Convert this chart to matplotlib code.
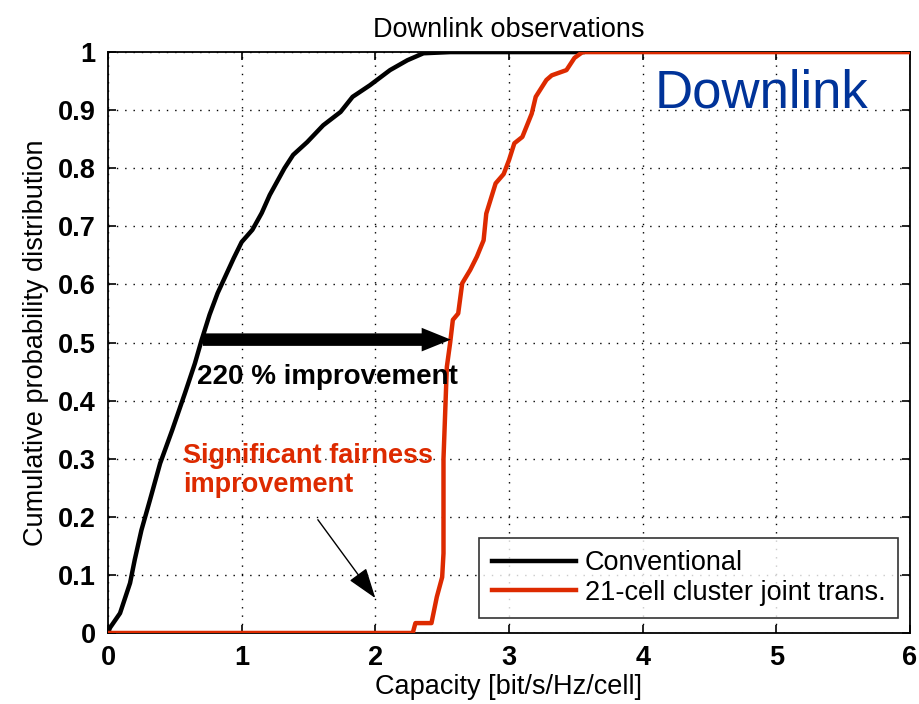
import matplotlib
matplotlib.use("Agg")
import matplotlib.pyplot as plt

plt.rcParams['font.family'] = ['Liberation Sans', 'DejaVu Sans']

# Conventional CDF
conv_x = [0.0, 0.015, 0.09, 0.165, 0.20, 0.25, 0.314, 0.39, 0.48, 0.576, 0.65,
          0.70, 0.76, 0.82, 0.94, 1.0, 1.08, 1.15, 1.21, 1.32, 1.385, 1.49,
          1.61, 1.74, 1.83, 1.96, 2.11, 2.24, 2.36, 2.56, 3.0, 3.55]
conv_y = [0.0, 0.009, 0.034, 0.086, 0.126, 0.177, 0.229, 0.292, 0.349, 0.413, 0.464,
          0.504, 0.548, 0.585, 0.645, 0.673, 0.694, 0.723, 0.754, 0.80, 0.823, 0.845,
          0.874, 0.897, 0.923, 0.943, 0.969, 0.986, 0.998, 1.0, 1.0, 1.0]

# 21-cell cluster joint transmission CDF
joint_x = [0.0, 2.28, 2.30, 2.42, 2.46, 2.50, 2.51, 2.51, 2.535, 2.56, 2.58,
           2.62, 2.65, 2.71, 2.76, 2.81, 2.83, 2.90, 2.96, 3.0, 3.04, 3.10,
           3.17, 3.20, 3.28, 3.32, 3.43, 3.49, 3.55, 6.0]
joint_y = [0.0, 0.0, 0.017, 0.017, 0.062, 0.096, 0.137, 0.30, 0.458, 0.50, 0.539,
           0.55, 0.602, 0.625, 0.648, 0.676, 0.722, 0.774, 0.79, 0.814, 0.843, 0.854,
           0.894, 0.923, 0.952, 0.96, 0.969, 0.99, 1.0, 1.0]

red = "#DD2A00"
blue = "#003399"

fig = plt.figure(figsize=(9.2, 7.04), dpi=100)
ax = fig.add_axes([0.1174, 0.1009, 0.8717, 0.8251])

ax.plot(conv_x, conv_y, color="black", lw=3.2, label="Conventional", zorder=3)
ax.plot(joint_x, joint_y, color=red, lw=3.2, label="21-cell cluster joint trans.", zorder=4)

ax.set_xlim(0, 6)
ax.set_ylim(0, 1)
ax.set_xticks(range(0, 7))
ax.set_yticks([0, 0.1, 0.2, 0.3, 0.4, 0.5, 0.6, 0.7, 0.8, 0.9, 1])
ax.set_yticklabels(["0", "0.1", "0.2", "0.3", "0.4", "0.5", "0.6", "0.7", "0.8", "0.9", "1"])
ax.tick_params(direction="in", top=True, right=True, length=6, width=1.2,
               labelsize=19.5, pad=9)
for lbl in ax.get_xticklabels() + ax.get_yticklabels():
    lbl.set_fontweight("bold")
ax.grid(True, color="black", linestyle=(0, (1, 5)), linewidth=1.0)
for s in ax.spines.values():
    s.set_linewidth(1.3)

ax.set_title("Downlink observations", fontsize=19.5, pad=11)
ax.set_xlabel("Capacity [bit/s/Hz/cell]", fontsize=19.5, labelpad=2)
ax.set_ylabel("Cumulative probability distribution", fontsize=19.5, labelpad=6)

# thick improvement arrow
ax.annotate("", xy=(2.565, 0.505), xytext=(0.71, 0.505),
            arrowprops=dict(arrowstyle="simple,tail_width=9,head_width=17,head_length=21",
                            mutation_scale=1, lw=0, fc="black", ec="black",
                            shrinkA=0, shrinkB=0), zorder=5)
ax.text(0.665, 0.44, "220 % improvement", fontsize=20, fontweight="bold",
        va="center", ha="left", zorder=6)

ax.text(0.56, 0.28, "Significant fairness\nimprovement", fontsize=19.5,
        fontweight="bold", color=red, va="center", ha="left", linespacing=1.15)
ax.annotate("", xy=(2.0, 0.06), xytext=(1.57, 0.195),
            arrowprops=dict(arrowstyle="-|>,head_length=1.9,head_width=0.65",
                            lw=1.0, color="black", shrinkA=0, shrinkB=0))

ax.text(4.09, 0.904, "Downlink", fontsize=38, color=blue, va="baseline", ha="left")

leg = ax.legend(loc="lower right", fontsize=19.5, frameon=True, fancybox=False,
                edgecolor="black", handlelength=3.1, handletextpad=0.35,
                borderpad=0.45, labelspacing=0.12, borderaxespad=0.0,
                bbox_to_anchor=(0.985, 0.026))
leg.get_frame().set_linewidth(1.2)

fig.savefig("out.png", dpi=100)
